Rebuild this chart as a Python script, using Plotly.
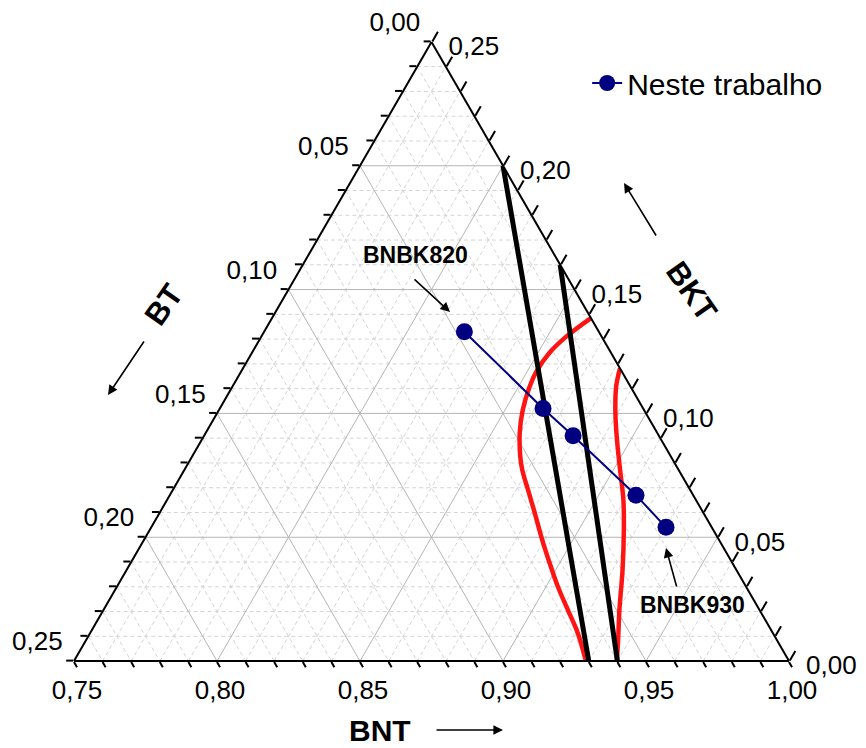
import plotly.graph_objects as go

# ---------------- data (mole fractions) ----------------
# blue series "Neste trabalho"
BNT_blue = [0.820, 0.863, 0.879, 0.913, 0.930]
BKT_blue = [0.133, 0.102, 0.091, 0.067, 0.054]
BT_blue = [0.047, 0.035, 0.030, 0.020, 0.016]

# black straight boundaries
line1_BNT = [0.800, 0.930]
line1_BKT = [0.200, 0.000]
line1_BT = [0.000, 0.070]
line2_BNT = [0.840, 0.940]
line2_BKT = [0.160, 0.000]
line2_BT = [0.000, 0.060]

# red curves
red1_BNT = [0.8615, 0.8566, 0.8540, 0.8532, 0.8539, 0.8562, 0.8598, 0.8648, 0.8682,
            0.8742, 0.8812, 0.8883, 0.8965, 0.9042, 0.9124, 0.9205, 0.9290]
red1_BKT = [0.1385, 0.1310, 0.1244, 0.1168, 0.1108, 0.1014, 0.0921, 0.0825, 0.0771,
            0.0691, 0.0598, 0.0502, 0.0396, 0.0300, 0.0206, 0.0113, 0.0000]
red1_BT = [0.0000, 0.0124, 0.0216, 0.0300, 0.0353, 0.0424, 0.0481, 0.0527, 0.0547,
           0.0567, 0.0590, 0.0615, 0.0639, 0.0658, 0.0670, 0.0682, 0.0710]

red2_BNT = [0.8818, 0.8842, 0.8892, 0.8952, 0.9024, 0.9096, 0.9158, 0.9234, 0.9304, 0.9360, 0.9398]
red2_BKT = [0.1182, 0.1107, 0.1002, 0.0893, 0.0771, 0.0650, 0.0529, 0.0368, 0.0206, 0.0085, 0.0000]
red2_BT = [0.0000, 0.0051, 0.0106, 0.0155, 0.0205, 0.0254, 0.0313, 0.0398, 0.0490, 0.0555, 0.0602]

# axis tick labels (major every 0.05, minor ticks every 0.01)
BT_labels = ["0,25", "0,20", "0,15", "0,10", "0,05", "0,00"]   # left edge (BT)
BNT_labels = ["1,00", "0,95", "0,90", "0,85", "0,80", "0,75"]  # bottom edge (BNT)
BKT_labels = ["0,25", "0,20", "0,15", "0,10", "0,05", "0,00"]  # right edge (BKT)

BNT_MIN = 0.75
SPAN = 0.25
FONT = "Arial, Liberation Sans, sans-serif"

steps = [k / 100 for k in range(0, 26)]


def texts(labels, prefix="", suffix=""):
    out = []
    for k in range(0, 26):
        out.append(prefix + labels[k // 5] + suffix if k % 5 == 0 else "")
    return out


fig = go.Figure()

# ---------------- grid (minor dashed, major solid) ----------------
def grid_lines(ks):
    ga, gb, gc = [], [], []
    for k in ks:
        v = k / 100
        ga += [v, v, None]; gb += [SPAN - v, 0, None]; gc += [BNT_MIN, 1 - v, None]          # const BKT
        ga += [SPAN - v, 0, None]; gb += [v, v, None]; gc += [BNT_MIN, 1 - v, None]          # const BT
        ga += [0, SPAN - v, None]; gb += [SPAN - v, 0, None]; gc += [BNT_MIN + v, BNT_MIN + v, None]  # const BNT
    return ga, gb, gc


ga, gb, gc = grid_lines([k for k in range(1, 25) if k % 5])
fig.add_trace(go.Scatterternary(a=ga, b=gb, c=gc, mode="lines", hoverinfo="skip",
                                line=dict(color="#d4d4d4", width=1, dash="4px,3px"),
                                showlegend=False))
ga, gb, gc = grid_lines([5, 10, 15, 20])
fig.add_trace(go.Scatterternary(a=ga, b=gb, c=gc, mode="lines", hoverinfo="skip",
                                line=dict(color="#b5b5b5", width=1),
                                showlegend=False))

# ---------------- red curves ----------------
for bnt, bkt, bt in [(red1_BNT, red1_BKT, red1_BT), (red2_BNT, red2_BKT, red2_BT)]:
    fig.add_trace(go.Scatterternary(a=bkt, b=bt, c=bnt, mode="lines",
                                    line=dict(color="rgba(255,0,0,0.92)", width=4.5, shape="spline"),
                                    showlegend=False, hoverinfo="skip"))

# ---------------- black lines ----------------
for bnt, bkt, bt in [(line1_BNT, line1_BKT, line1_BT), (line2_BNT, line2_BKT, line2_BT)]:
    fig.add_trace(go.Scatterternary(a=bkt, b=bt, c=bnt, mode="lines",
                                    line=dict(color="black", width=5),
                                    showlegend=False, hoverinfo="skip"))

# ---------------- blue series ----------------
fig.add_trace(go.Scatterternary(a=BKT_blue, b=BT_blue, c=BNT_blue, mode="lines+markers",
                                name="Neste trabalho",
                                line=dict(color="#000080", width=2),
                                marker=dict(color="#000080", size=17)))

axis_common = dict(linecolor="black", linewidth=2, showgrid=False,
                   ticks="outside", tickcolor="black", tickwidth=1.5,
                   tickmode="array",
                   tickfont=dict(family=FONT, size=26, color="black"),
                   title=dict(text=""))

fig.update_layout(
    width=866, height=748,
    margin=dict(l=0, r=0, t=0, b=0),
    paper_bgcolor="white",
    font=dict(family=FONT, color="black"),
    ternary=dict(
        sum=1,
        bgcolor="white",
        domain=dict(x=[74 / 866, 789 / 866], y=[85.5 / 748, 707.5 / 748]),
        aaxis={**axis_common, "min": 0, "ticklen": 7, "tickvals": steps,
               "ticktext": texts(BT_labels, suffix="<br>&nbsp;")},
        baxis={**axis_common, "min": 0, "ticklen": 6, "tickvals": steps,
               "ticktext": texts(BNT_labels)},
        caxis={**axis_common, "min": BNT_MIN, "ticklen": 11,
               "tickvals": [BNT_MIN + s for s in steps],
               "ticktext": texts(BKT_labels, prefix="&nbsp;<br>&nbsp;")},
    ),
    showlegend=True,
    legend=dict(x=0.678, y=1 - 83 / 748, xanchor="left", yanchor="middle",
                bgcolor="rgba(0,0,0,0)", font=dict(family=FONT, size=30, color="black")),
)

# ---------------- annotations ----------------
def label(text, x, y, size, angle=0):
    fig.add_annotation(text=text, x=x / 866, y=1 - y / 748, xref="paper", yref="paper",
                       xanchor="center", yanchor="middle",
                       showarrow=False, textangle=angle,
                       font=dict(family=FONT, size=size, color="black"))


def arrow(x0, y0, x1, y1):
    fig.add_annotation(text="", x=x1 / 866, y=1 - y1 / 748, xref="paper", yref="paper",
                       ax=x0 - x1, ay=y0 - y1, showarrow=True, arrowhead=2,
                       arrowsize=1.2, arrowwidth=1.6, arrowcolor="black", standoff=0)


label("<b>BNBK820</b>", 415, 255, 23)
arrow(413, 278, 450, 312)
label("<b>BNBK930</b>", 692, 605, 23)
arrow(677, 588, 666, 548)
label("<b>BT</b>", 163, 305, 31, -55)
arrow(145, 340, 108, 395)
label("<b>BKT</b>", 692, 291, 31, 55)
arrow(657, 237, 624, 183)
label("<b>BNT</b>", 380, 730, 30)
arrow(435, 730, 503, 730)

fig.write_html("out.html")
